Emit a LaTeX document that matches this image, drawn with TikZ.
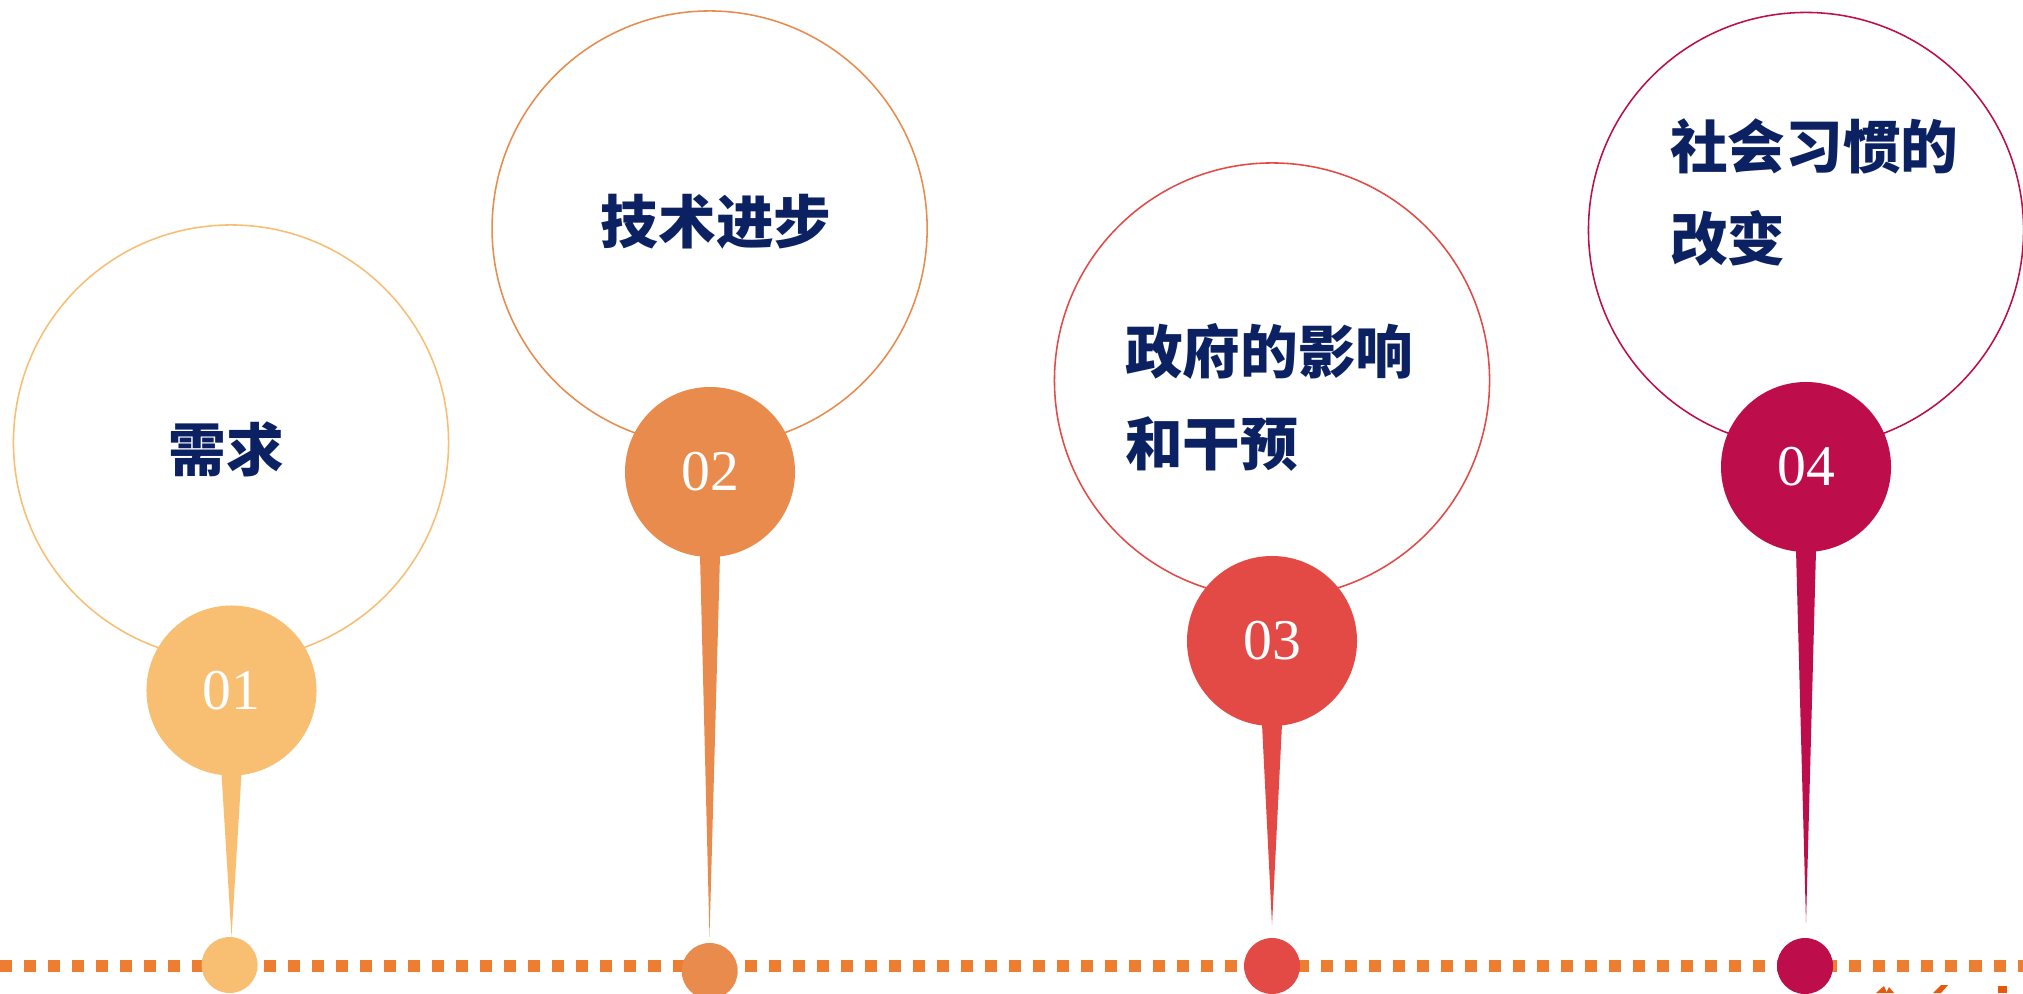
\documentclass[tikz,border=0pt]{standalone}
\usepackage{fontspec}
\usetikzlibrary{calc}
\newfontfamily\cjkbold{Noto Sans CJK SC Black}
\newfontfamily\numfont{Liberation Serif}
\definecolor{cA}{HTML}{F8BE72}
\definecolor{cB}{HTML}{E88B4D}
\definecolor{cC}{HTML}{E34A46}
\definecolor{cD}{HTML}{BD0E4B}
\definecolor{lineor}{HTML}{ED7D31}
\definecolor{navy}{HTML}{0B2162}
\definecolor{logoor}{HTML}{E8580C}
\tikzset{
  bigring/.style={circle, draw=#1, line width=1.1pt, fill=white, minimum size=10.875cm, inner sep=0pt},
  pinhead/.style={circle, fill=#1, minimum size=4.25cm, inner sep=0pt, text=white,
    font=\numfont\fontsize{41}{41}\selectfont},
  pindot/.style={circle, fill=#1, minimum size=1.4cm, inner sep=0pt},
  label/.style={text=navy, inner sep=0pt, align=left, font=\cjkbold\fontsize{41}{65.4}\selectfont},
}
\newcommand{\pintail}[3]{% node, tip, colour
  \fill[#3] ($(#1)+(-33,78)$) -- ($(#1)+(-10,83)$) -- (#2) -- ($(#1)+(10,83)$) -- ($(#1)+(33,78)$) -- cycle;}
\begin{document}
\begin{tikzpicture}[x=0.025cm,y=-0.025cm]
\useasboundingbox[fill=white] (0,0) rectangle (2023,993);
% dotted timeline
\draw[lineor, line width=8.54pt, dash pattern=on 8.54pt off 8.54pt] (0,966) -- (2023,966);
% big rings
\node[bigring=cA] (r1) at (231,442.5) {};
\node[bigring=cB] (r2) at (709.6,228.5) {};
\node[bigring=cC] (r3) at (1272,380.5) {};
\node[bigring=cD] (r4) at (1806,230) {};
% labels
\node[label] (l1) at (226,449) {需求};
\node[label] (l2) at (716,222) {技术进步};
\node[label, anchor=west] (l3) at (1125,397) {政府的影响\\和干预};
\node[label, anchor=west] (l4) at (1670,192.5) {社会习惯的\\改变};
% tail tips
\coordinate (t1) at (231.5,937);
\coordinate (t2) at (709.5,937);
\coordinate (t3) at (1272,925);
\coordinate (t4) at (1806,923);
% pin heads
\node[pinhead=cA] (p1) at (231.5,690.5) {01};
\node[pinhead=cB] (p2) at (710,472) {02};
\node[pinhead=cC] (p3) at (1272,641) {03};
\node[pinhead=cD] (p4) at (1806,467) {04};
\pintail{p1}{t1}{cA}
\pintail{p2}{t2}{cB}
\pintail{p3}{t3}{cC}
\pintail{p4}{t4}{cD}
% dots on the timeline
\node[pindot=cA] (d1) at (229.6,965) {};
\node[pindot=cB] (d2) at (709.7,971) {};
\node[pindot=cC] (d3) at (1272,966) {};
\node[pindot=cD] (d4) at (1805,966) {};
% cropped logo fragments
\fill[logoor] (1876,993) -- (1884,986) -- (1887,993) -- cycle;
\fill[logoor] (1886,993) -- (1889,987) -- (1894,993) -- cycle;
\fill[logoor] (1933,993) -- (1941,985) -- (1948,985) -- (1941,993) -- cycle;
\fill[logoor] (1998,986) rectangle (2007,993);
\end{tikzpicture}
\end{document}
